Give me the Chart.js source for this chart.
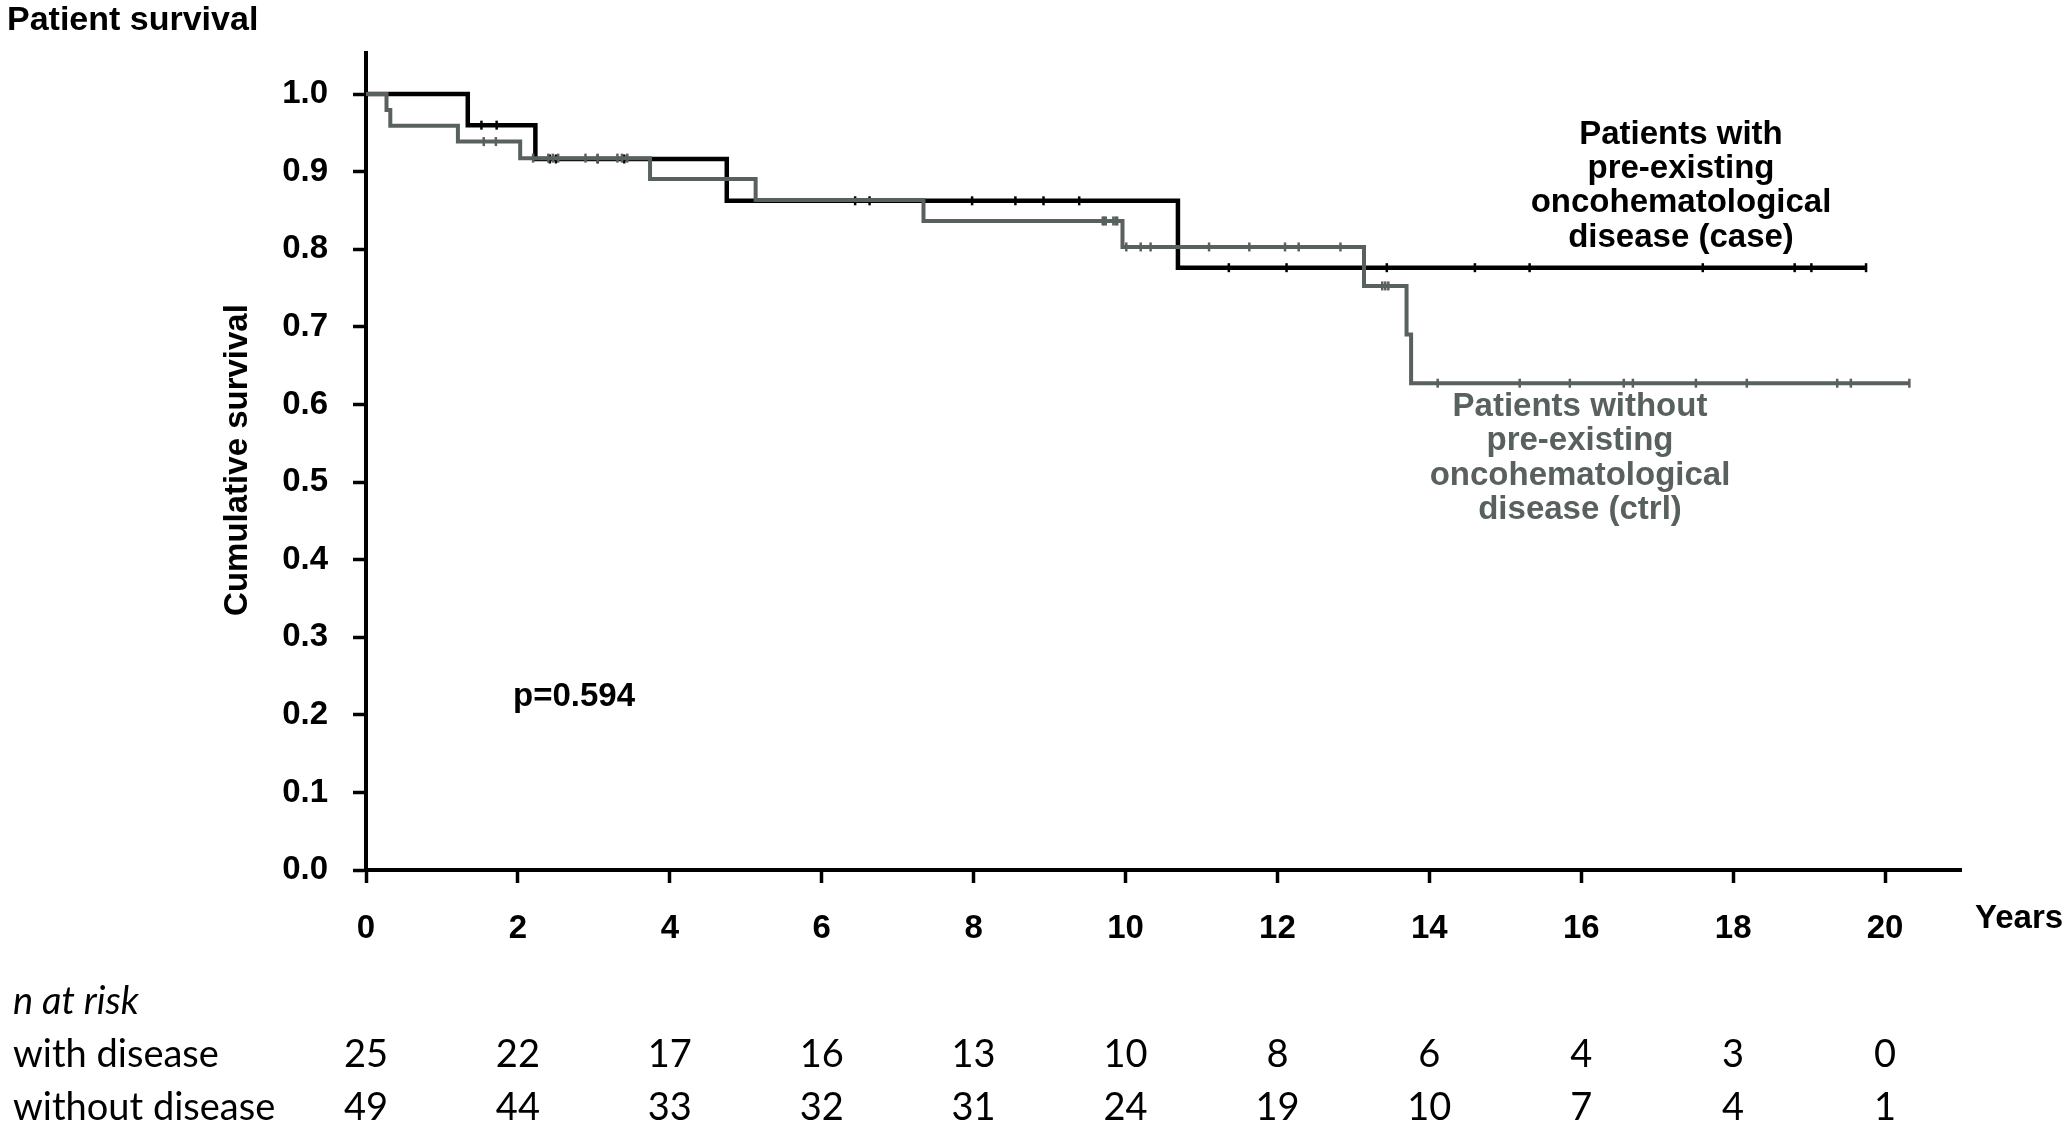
<!DOCTYPE html>
<html>
<head>
<meta charset="utf-8">
<script src="https://cdn.jsdelivr.net/npm/chart.js@4/dist/chart.umd.min.js"></script>
<style>
html,body{margin:0;padding:0;background:#fff;}
#wrap{width:2072px;height:1126px;position:relative;}
</style>
</head>
<body>
<div id="wrap"><canvas id="c" width="2072" height="1126"></canvas></div>
<script>
// ---- data ----
const caseTimes = [0, 1.34, 2.23, 4.75, 10.69, 19.75];
const caseSurv  = [1, 0.96, 0.9164, 0.8625, 0.7763, 0.7763];
const ctrlTimes = [0, 0.27, 0.32, 1.21, 2.03, 3.74, 5.13, 7.34, 9.96, 13.14, 13.70, 13.76, 20.32];
const ctrlSurv  = [1, 0.9796, 0.9592, 0.9388, 0.9175, 0.8905, 0.8635, 0.8365, 0.8030, 0.7528, 0.6901, 0.6274, 0.6274];
const caseCensor = [1.52, 1.72, 2.42, 2.50, 3.05, 3.40, 6.44, 6.63, 7.98, 8.55, 8.92, 9.39, 11.36, 12.12, 13.44, 14.60, 15.32, 17.60, 18.81, 19.03, 19.75];
const ctrlCensor = [1.55, 1.71, 2.20, 2.40, 2.46, 2.53, 2.89, 3.05, 3.31, 3.37, 3.44, 9.70, 9.72, 9.74, 9.84, 9.87, 9.89, 10.01, 10.20, 10.33, 11.10, 11.63, 12.10, 12.28, 12.83, 13.38, 13.42, 13.46, 14.11, 15.19, 15.85, 16.56, 16.68, 17.51, 18.18, 19.37, 19.55, 20.32];
const riskTimes   = [0, 2, 4, 6, 8, 10, 12, 14, 16, 18, 20];
const riskWith    = [25, 22, 17, 16, 13, 10, 8, 6, 4, 3, 0];
const riskWithout = [49, 44, 33, 32, 31, 24, 19, 10, 7, 4, 1];
const caseLabel = ["Patients with", "pre-existing", "oncohematological", "disease (case)"];
const ctrlLabel = ["Patients without", "pre-existing", "oncohematological", "disease (ctrl)"];
const pText = "p=0.594";

const BLACK = '#000000';
const GREY = '#58615d';
const BOLD = 'bold 33px "Liberation Sans", Arial, sans-serif';

function stepPts(t, s){ return t.map((x,i)=>({x:x, y:s[i]})); }
function survAt(t, times, surv){
  let v = surv[0];
  for (let i=0;i<times.length;i++){ if (times[i] <= t + 1e-9) v = surv[i]; }
  return v;
}
function censorPts(c, times, surv){ return c.map(t=>({x:t, y:survAt(t, times, surv)})); }

const textPlugin = {
  id:'texts',
  afterDraw(chart){
    const ctx = chart.ctx;
    const xs = chart.scales.x;
    ctx.save();
    ctx.fillStyle = BLACK;
    ctx.textBaseline = 'middle';
    ctx.textAlign = 'left';
    ctx.font = 'bold 34px "Liberation Sans", Arial, sans-serif';
    ctx.fillText('Patient survival', 7, 21);
    ctx.font = BOLD;
    ctx.fillText(pText, 513, 697);
    ctx.fillText('Years', 1975, 919);
    // y title
    ctx.save();
    ctx.translate(238, 460);
    ctx.rotate(-Math.PI/2);
    ctx.textAlign = 'center';
    ctx.fillText('Cumulative survival', 0, 0);
    ctx.restore();
    // curve labels
    ctx.textAlign = 'center';
    const cy = [135, 169, 203, 238];
    caseLabel.forEach((l,i)=>ctx.fillText(l, 1681, cy[i]));
    ctx.fillStyle = GREY;
    const gy = [407, 441, 476, 510];
    ctrlLabel.forEach((l,i)=>ctx.fillText(l, 1580, gy[i]));
    // risk table
    ctx.fillStyle = BLACK;
    ctx.textAlign = 'left';
    ctx.font = 'italic 38px Lato, "Noto Sans", sans-serif';
    ctx.fillText('n at risk', 13, 1002);
    ctx.font = '38px Lato, "Noto Sans", sans-serif';
    ctx.fillText('with disease', 13, 1055);
    ctx.fillText('without disease', 13, 1108);
    ctx.textAlign = 'center';
    riskTimes.forEach((t,i)=>{
      const px = xs.getPixelForValue(t);
      ctx.fillText(String(riskWith[i]), px, 1055);
      ctx.fillText(String(riskWithout[i]), px, 1108);
    });
    ctx.restore();
  }
};

new Chart(document.getElementById('c'), {
  type:'line',
  data:{
    datasets:[
      {data:censorPts(ctrlCensor, ctrlTimes, ctrlSurv), showLine:false, pointStyle:'line', rotation:90, pointRadius:4.5, pointBorderWidth:2.5, pointBorderColor:GREY, pointBackgroundColor:GREY, borderColor:GREY, order:0},
      {data:stepPts(ctrlTimes, ctrlSurv), stepped:'before', borderColor:GREY, borderWidth:4, pointRadius:0, fill:false, order:1},
      {data:censorPts(caseCensor, caseTimes, caseSurv), showLine:false, pointStyle:'line', rotation:90, pointRadius:4.5, pointBorderWidth:2.5, pointBorderColor:BLACK, pointBackgroundColor:BLACK, borderColor:BLACK, order:2},
      {data:stepPts(caseTimes, caseSurv), stepped:'before', borderColor:BLACK, borderWidth:4.5, pointRadius:0, fill:false, order:3}
    ]
  },
  options:{
    responsive:false,
    animation:false,
    devicePixelRatio:1,
    layout:{padding:{top:53, right:111, left:0, bottom:0}},
    plugins:{legend:{display:false}, tooltip:{enabled:false}},
    scales:{
      x:{
        type:'linear', min:0, max:21,
        afterFit(s){ s.height = 256; },
        afterBuildTicks(s){ s.ticks = riskTimes.map(v=>({value:v})); },
        border:{display:true, color:BLACK, width:4},
        grid:{display:true, drawOnChartArea:false, drawTicks:true, tickLength:13, tickWidth:3.5, tickColor:BLACK},
        ticks:{color:BLACK, font:{family:'"Liberation Sans", Arial, sans-serif', size:33, weight:'bold'}, padding:26, maxRotation:0, autoSkip:false, callback:(v)=>String(v)}
      },
      y:{
        type:'linear', min:0, max:1.053,
        afterFit(s){ s.width = 366; },
        afterBuildTicks(s){ s.ticks = s.ticks.filter(t=>t.value <= 1.0001); },
        border:{display:true, color:BLACK, width:4},
        grid:{display:true, drawOnChartArea:false, drawTicks:true, tickLength:13, tickWidth:3.5, tickColor:BLACK},
        ticks:{stepSize:0.1, color:BLACK, font:{family:'"Liberation Sans", Arial, sans-serif', size:33, weight:'bold'}, padding:25, autoSkip:false, callback:(v)=>Number(v).toFixed(1)}
      }
    }
  },
  plugins:[textPlugin]
});
</script>
</body>
</html>
